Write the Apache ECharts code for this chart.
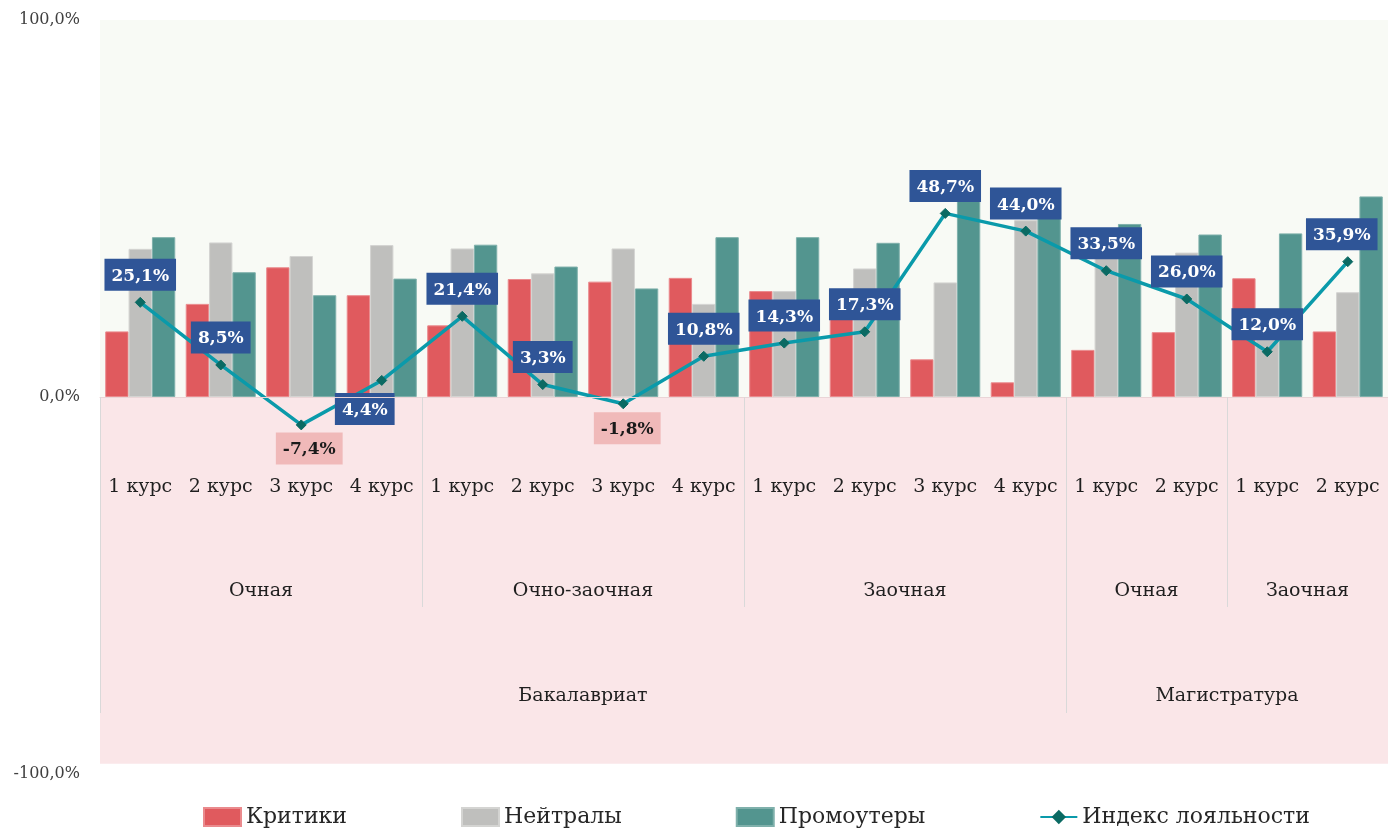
<!DOCTYPE html>
<html>
<head>
<meta charset="utf-8">
<script src="https://cdn.jsdelivr.net/npm/echarts@6/dist/echarts.min.js"></script>
<style>
  html, body { margin: 0; padding: 0; background: #fff; }
  #chart { width: 1388px; height: 829px; }
</style>
</head>
<body>
<div id="chart"></div>
<script>
// курсы (нижний уровень оси)
const courses = [
  "1 курс", "2 курс", "3 курс", "4 курс",
  "1 курс", "2 курс", "3 курс", "4 курс",
  "1 курс", "2 курс", "3 курс", "4 курс",
  "1 курс", "2 курс",
  "1 курс", "2 курс"
];
// формы обучения и сколько курсов в каждой
const studyForms = ["Очная", "Очно-заочная", "Заочная", "Очная", "Заочная"];
const studyFormSpans = [4, 4, 4, 2, 2];
// уровень образования
const levels = ["Бакалавриат", "Магистратура"];
const levelSpans = [12, 4];

// доли, %
const critics = [17.4, 24.7, 34.4, 27.0, 19.0, 31.3, 30.6, 31.6, 28.1, 23.6, 10.0, 3.9, 12.5, 17.2, 31.5, 17.4];
const neutrals = [39.3, 41.0, 37.4, 40.3, 39.4, 32.8, 39.4, 24.7, 28.1, 34.1, 30.4, 46.9, 40.3, 38.3, 23.5, 27.8];
const promoters = [42.4, 33.1, 27.0, 31.4, 40.4, 34.6, 28.8, 42.4, 42.4, 40.9, 58.7, 47.9, 45.9, 43.1, 43.4, 53.2];
const loyalty = [25.1, 8.5, -7.4, 4.4, 21.4, 3.3, -1.8, 10.8, 14.3, 17.3, 48.7, 44.0, 33.5, 26.0, 12.0, 35.9];

const yTicks = [-100, 0, 100];

const FONT = "DejaVu Serif";
const fmt = v => v.toFixed(1).replace(".", ",") + "%";

// подписи групп ставим в середину каждого диапазона (оси с 17 точками-границами)
function groupLabels(names, spans) {
  const arr = new Array(courses.length + 1).fill("");
  let start = 0;
  names.forEach((n, i) => {
    arr[start + spans[i] / 2] = n;
    start += spans[i];
  });
  return arr;
}
function groupBounds(spans) {
  const b = [0];
  let s = 0;
  spans.forEach(x => { s += x; b.push(s); });
  return b;
}
const formBounds = groupBounds(studyFormSpans);
const levelBounds = groupBounds(levelSpans);

// ручная раскладка подписей индекса, которые в оригинале стоят снизу/сбоку
const labelTweaks = {
  2: { position: "bottom", distance: 2, offset: [8, 0] },
  3: { position: "bottom", distance: 7, offset: [-17, 0] },
  6: { position: "bottom", distance: 3, offset: [4, 0] },
  15: { offset: [-6, 0] }
};

const loyaltyData = loyalty.map((v, i) => {
  const item = { value: v };
  const lbl = Object.assign({}, labelTweaks[i] || {});
  if (v < 0) {
    lbl.backgroundColor = "#f0b9b9";
    lbl.color = "#1a1a1a";
  }
  item.label = lbl;
  return item;
});

const barBase = {
  type: "bar",
  barGap: "0%",
  barCategoryGap: "13%",
  xAxisIndex: 0,
  z: 2
};

const AXIS_SHIFT = -377; // подтягиваем оси категорий к нулю

const myChart = echarts.init(document.getElementById("chart"));
const option = {
  backgroundColor: "#ffffff",
  animation: false,
  textStyle: { fontFamily: FONT },
  grid: {
    top: 20,
    bottom: 55,
    left: 100,
    right: 0,
    containLabel: false,
    outerBoundsMode: "none"
  },
  legend: {
    left: 198,
    top: 801,
    itemGap: 114,
    itemWidth: 37,
    itemHeight: 18,
    textStyle: { fontFamily: FONT, fontSize: 22, color: "#262626" },
    data: [
      { name: "Критики", icon: "rect" },
      { name: "Нейтралы", icon: "rect" },
      { name: "Промоутеры", icon: "rect" },
      { name: "Индекс лояльности" }
    ]
  },
  xAxis: [
    {
      type: "category",
      data: courses,
      position: "bottom",
      offset: AXIS_SHIFT,
      z: 5,
      axisLine: { show: true, onZero: false, lineStyle: { color: "#ead5d7", width: 1 } },
      axisTick: { show: false },
      axisLabel: {
        interval: 0,
        margin: 81,
        fontFamily: FONT,
        fontSize: 19,
        color: "#1f1f1f"
      },
      splitLine: { show: false }
    },
    {
      type: "category",
      data: groupLabels(studyForms, studyFormSpans),
      boundaryGap: false,
      position: "bottom",
      offset: AXIS_SHIFT,
      z: 5,
      axisLine: { show: false, onZero: false },
      axisTick: {
        show: true,
        length: 210,
        interval: (idx) => formBounds.indexOf(idx) !== -1,
        lineStyle: { color: "#d9d9d9", width: 1 }
      },
      axisLabel: {
        interval: 0,
        margin: 185,
        fontFamily: FONT,
        fontSize: 19,
        color: "#1f1f1f"
      },
      splitLine: { show: false }
    },
    {
      type: "category",
      data: groupLabels(levels, levelSpans),
      boundaryGap: false,
      position: "bottom",
      offset: AXIS_SHIFT,
      z: 5,
      axisLine: { show: false, onZero: false },
      axisTick: {
        show: true,
        length: 316,
        interval: (idx) => idx === levelBounds[0] || idx === levelBounds[1],
        lineStyle: { color: "#d9d9d9", width: 1 }
      },
      axisLabel: {
        interval: 0,
        margin: 290,
        fontFamily: FONT,
        fontSize: 19,
        color: "#1f1f1f"
      },
      splitLine: { show: false }
    }
  ],
  yAxis: {
    type: "value",
    min: yTicks[0],
    max: yTicks[yTicks.length - 1],
    interval: 100,
    axisLine: { show: false },
    axisTick: { show: false },
    splitLine: { show: false },
    axisLabel: {
      margin: 20,
      fontFamily: FONT,
      fontSize: 16,
      color: "#404040",
      formatter: v => fmt(v)
    }
  },
  series: [
    {
      // фон: верх зеленоватый, низ (зона подписей) розовый
      name: "bg",
      type: "line",
      data: [],
      z: 1,
      silent: true,
      markArea: {
        silent: true,
        data: [
          [{ yAxis: 100, itemStyle: { color: "#f8faf5" } }, { yAxis: 0 }],
          [{ yAxis: 0, itemStyle: { color: "#fae6e8" } }, { yAxis: -97.3 }]
        ]
      }
    },
    Object.assign({}, barBase, {
      name: "Критики",
      data: critics,
      itemStyle: { color: "#e05a5e", borderColor: "#ea8a8d", borderWidth: 1 }
    }),
    Object.assign({}, barBase, {
      name: "Нейтралы",
      data: neutrals,
      itemStyle: { color: "#bfbfbd", borderColor: "#d4d4d2", borderWidth: 1 }
    }),
    Object.assign({}, barBase, {
      name: "Промоутеры",
      data: promoters,
      itemStyle: { color: "#53958f", borderColor: "#7fb0ab", borderWidth: 1 }
    }),
    {
      name: "Индекс лояльности",
      type: "line",
      xAxisIndex: 0,
      data: loyaltyData,
      z: 4,
      symbol: "diamond",
      symbolSize: 10,
      lineStyle: { color: "#0a9aaa", width: 3.5 },
      itemStyle: { color: "#0b6a63", borderColor: "#0b6a63" },
      label: {
        show: true,
        position: "top",
        distance: 6,
        formatter: p => fmt(p.value),
        fontFamily: FONT,
        fontSize: 17,
        fontWeight: "bold",
        color: "#ffffff",
        backgroundColor: "#2f5597",
        padding: [9, 7, 6, 7]
      }
    }
  ]
};
myChart.setOption(option);
</script>
</body>
</html>
